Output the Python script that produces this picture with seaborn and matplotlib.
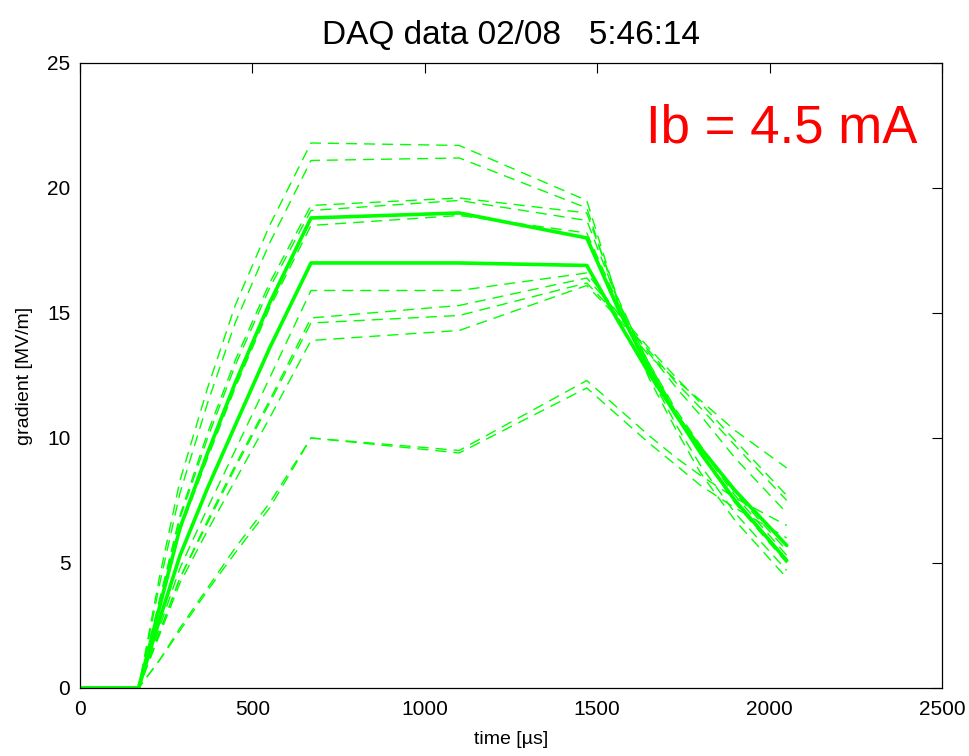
import matplotlib
matplotlib.use("Agg")
import matplotlib.pyplot as plt
import matplotlib.font_manager as fm
import pandas as pd
import seaborn as sns

# sample times of each trace [us]
time_us = [0, 170, 230, 290, 370, 450, 550, 670, 1100, 1470,
           1560, 1650, 1730, 1800, 1900, 2050]

# thick solid traces [MV/m]
solid_traces = {
    "s1": [0, 0, 3.2, 6.4, 9.4, 12.2, 15.4, 18.8, 19.0, 18.0,
           15.2, 12.8, 10.9, 9.4, 7.5, 5.1],
    "s2": [0, 0, 2.7, 5.3, 8.0, 10.5, 13.6, 17.0, 17.0, 16.9,
           14.7, 12.6, 10.9, 9.6, 7.9, 5.7],
}

# thin dashed traces [MV/m]
dashed_traces = {
    "d1": [0, 0, 4.4, 8.3, 12.0, 15.3, 18.5, 21.8, 21.7, 19.5,
           15.5, 12.4, 10.3, 8.6, 6.7, 4.4],
    "d2": [0, 0, 4.1, 7.8, 11.4, 14.6, 17.8, 21.1, 21.2, 19.2,
           15.4, 12.6, 10.5, 8.9, 7.0, 4.7],
    "d3": [0, 0, 3.5, 6.9, 10.2, 13.1, 16.2, 19.3, 19.6, 19.0,
           15.6, 12.9, 10.9, 9.4, 7.4, 5.0],
    "d4": [0, 0, 3.4, 6.8, 10.0, 12.9, 16.0, 19.1, 19.5, 18.7,
           15.5, 13.0, 11.0, 9.6, 7.7, 5.3],
    "d5": [0, 0, 3.1, 6.3, 9.2, 12.0, 15.2, 18.5, 18.9, 18.2,
           15.4, 13.0, 11.1, 9.7, 7.8, 5.5],
    "d6": [0, 0, 2.4, 4.8, 7.2, 9.5, 12.4, 15.9, 15.9, 16.6,
           15.0, 13.4, 12.0, 10.9, 9.2, 7.0],
    "d7": [0, 0, 2.2, 4.4, 6.7, 8.9, 11.5, 14.8, 15.3, 16.4,
           15.0, 13.6, 12.4, 11.4, 9.9, 7.7],
    "d8": [0, 0, 2.2, 4.4, 6.6, 8.8, 11.4, 14.6, 14.9, 16.2,
           14.9, 13.5, 12.2, 11.2, 9.7, 7.5],
    "d9": [0, 0, 2.1, 4.2, 6.3, 8.3, 10.8, 13.9, 14.3, 16.1,
           14.8, 13.3, 12.3, 11.5, 10.3, 8.8],
    "d10": [0, 0, 1.1, 2.4, 4.0, 5.6, 7.4, 10.0, 9.5, 12.3,
            11.2, 10.1, 9.2, 8.5, 7.6, 6.5],
    "d11": [0, 0, 1.1, 2.3, 3.9, 5.4, 7.2, 10.0, 9.4, 12.0,
            10.9, 9.8, 8.9, 8.1, 7.2, 6.0],
}

x_ticks = [0, 500, 1000, 1500, 2000, 2500]
y_ticks = [0, 5, 10, 15, 20, 25]

title = "DAQ data 02/08   5:46:14"
note = "Ib = 4.5 mA"

sns.set_theme(style="white")
names = {f.name for f in fm.fontManager.ttflist}
base = "Liberation Sans" if "Liberation Sans" in names else "DejaVu Sans"
plt.rcParams["font.family"] = [base, "DejaVu Sans"]
plt.rcParams["text.color"] = "black"
plt.rcParams["axes.labelcolor"] = "black"

fig = plt.figure(figsize=(9.7, 7.56), dpi=100)
ax = fig.add_axes([0.0825, 0.09, 0.8885, 0.8267])

green = "#00ff00"
for name, vals in dashed_traces.items():
    df = pd.DataFrame({"t": time_us, "g": vals})
    sns.lineplot(data=df, x="t", y="g", ax=ax, color=green, lw=1.0,
                 estimator=None, sort=False)
    ax.lines[-1].set_dashes((8, 5))
for name, vals in solid_traces.items():
    df = pd.DataFrame({"t": time_us, "g": vals})
    sns.lineplot(data=df, x="t", y="g", ax=ax, color=green, lw=2.6,
                 estimator=None, sort=False)

ax.set_xlim(0, 2500)
ax.set_ylim(0, 25)
ax.set_xticks(x_ticks)
ax.set_yticks(y_ticks)
ax.tick_params(direction="in", length=7, width=0.8, top=True, right=True,
               labelsize=15, colors="black")
ax.tick_params(axis="x", pad=9)
ax.tick_params(axis="y", pad=7)
for sp in ax.spines.values():
    sp.set_color("black")
    sp.set_linewidth(0.9)

ax.set_xlabel("time [µs]", fontsize=14, labelpad=8)
ax.set_ylabel("gradient [MV/m]", fontsize=14, labelpad=10)
ax.set_title(title, fontsize=24, pad=14, color="black")
ax.text(0.972, 0.895, note, transform=ax.transAxes, ha="right", va="center",
        color="red", fontsize=38)

fig.savefig("out.png", dpi=100)
